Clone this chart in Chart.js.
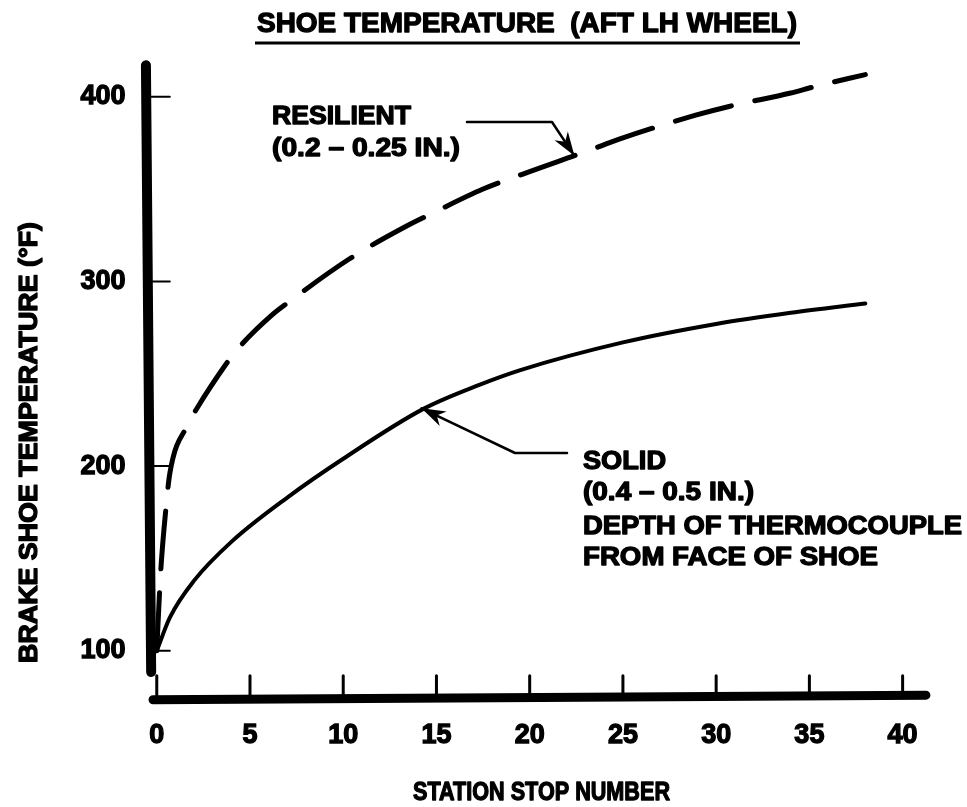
<!DOCTYPE html>
<html>
<head>
<meta charset="utf-8">
<script src="https://cdn.jsdelivr.net/npm/chart.js@4/dist/chart.umd.min.js"></script>
<style>
  html, body { margin: 0; padding: 0; background: #fff; }
  #wrap { width: 967px; height: 807px; }
</style>
</head>
<body>
<div id="wrap"><canvas id="c" width="967" height="807"></canvas></div>
<script>
// Station stop number vs. brake shoe temperature (°F)
const solidStops = [0, 0.7, 2, 4, 7, 10, 14.3, 17.3, 19.5, 25, 30, 34, 38];
const solidTemps = [100, 118, 138, 159, 183, 204, 231, 244, 252, 267, 277, 283, 288];

const resilientStops = [0, 0.2, 0.5, 0.7, 1.7, 2.2, 3.7, 4.3, 6.2, 7.1, 10.3, 13.4, 14.8, 17.5, 19.6, 23.2, 24.8, 28.9, 30.8, 34, 35.1, 38];
const resilientTemps = [100, 141, 178, 196, 223, 232, 255, 263, 282, 289, 312, 330, 337, 350, 358, 371, 377, 390, 395, 402, 405, 412];

const xTickValues = [0, 5, 10, 15, 20, 25, 30, 35, 40];
const yTickValues = [100, 200, 300, 400];

const chartTitle = 'SHOE TEMPERATURE  (AFT LH WHEEL)';
const xTitle = 'STATION STOP NUMBER';
const yTitle = 'BRAKE SHOE TEMPERATURE (°F)';
const resilientNote = ['RESILIENT', '(0.2 \u2013 0.25 IN.)'];
const solidNote = ['SOLID', '(0.4 \u2013 0.5 IN.)', 'DEPTH OF THERMOCOUPLE', 'FROM FACE OF SHOE'];

const FONT = '"Liberation Sans", Arial, Helvetica, sans-serif';

function toPoints(xs, ys) {
  return xs.map((v, i) => ({ x: v, y: ys[i] }));
}

// heavy bold text squeezed/stretched to span [x0, x1]
function fittedText(ctx, text, x0, x1, cy, size) {
  ctx.save();
  ctx.font = 'bold ' + size + 'px ' + FONT;
  ctx.textBaseline = 'middle';
  ctx.textAlign = 'left';
  const w = ctx.measureText(text).width;
  const sx = (x1 - x0) / w;
  ctx.translate(x0, cy);
  ctx.scale(sx, 1);
  ctx.lineWidth = 1.3;
  ctx.lineJoin = 'round';
  ctx.strokeStyle = '#000';
  ctx.fillText(text, 0, 0);
  ctx.strokeText(text, 0, 0);
  ctx.restore();
}

function arrowHead(ctx, tipX, tipY, fromX, fromY, len, half) {
  const a = Math.atan2(tipY - fromY, tipX - fromX);
  ctx.beginPath();
  ctx.moveTo(tipX, tipY);
  ctx.lineTo(tipX - len * Math.cos(a) + half * Math.sin(a), tipY - len * Math.sin(a) - half * Math.cos(a));
  ctx.lineTo(tipX - len * 0.7 * Math.cos(a), tipY - len * 0.7 * Math.sin(a));
  ctx.lineTo(tipX - len * Math.cos(a) - half * Math.sin(a), tipY - len * Math.sin(a) + half * Math.cos(a));
  ctx.closePath();
  ctx.fill();
}

const decor = {
  id: 'decor',
  afterDraw(chart) {
    const { ctx } = chart;
    const xs = chart.scales.x, ys = chart.scales.y;
    const px = v => xs.getPixelForValue(v);
    const py = v => ys.getPixelForValue(v);
    ctx.save();
    ctx.fillStyle = '#000';
    ctx.strokeStyle = '#000';
    ctx.lineCap = 'round';
    ctx.lineJoin = 'round';

    // vertical axis
    ctx.lineWidth = 10;
    ctx.beginPath();
    ctx.moveTo(px(-0.58), py(417));
    ctx.lineTo(px(-0.3), py(88.5));
    ctx.stroke();
    // horizontal axis
    ctx.lineWidth = 9;
    ctx.beginPath();
    ctx.moveTo(px(-0.2), py(73.5));
    ctx.lineTo(px(41.25), py(76));
    ctx.stroke();

    // inward ticks on the temperature axis
    ctx.lineWidth = 2;
    yTickValues.forEach(v => {
      ctx.beginPath();
      ctx.moveTo(px(-0.4), py(v));
      ctx.lineTo(px(0.7), py(v));
      ctx.stroke();
    });
    // upward ticks on the stop-number axis
    ctx.lineWidth = 3;
    xTickValues.forEach(v => {
      ctx.beginPath();
      ctx.moveTo(px(v), py(75));
      ctx.lineTo(px(v), py(86.5));
      ctx.stroke();
    });

    // titles
    fittedText(ctx, chartTitle, 257, 797, 25, 27);
    ctx.lineWidth = 3;
    ctx.lineCap = 'butt';
    ctx.beginPath();
    ctx.moveTo(255, 43);
    ctx.lineTo(800, 43);
    ctx.stroke();
    fittedText(ctx, xTitle, 413, 670, 793, 26);
    ctx.save();
    ctx.translate(30, 0);
    ctx.rotate(-Math.PI / 2);
    fittedText(ctx, yTitle, -663, -222, 0, 25);
    ctx.restore();

    // resilient note and leader
    fittedText(ctx, resilientNote[0], 272, 411, 117, 25);
    fittedText(ctx, resilientNote[1], 272, 460, 149, 25);
    const rTipX = px(22.4), rTipY = py(368);
    ctx.lineWidth = 2.5;
    ctx.lineCap = 'round';
    ctx.beginPath();
    ctx.moveTo(467, 122);
    ctx.lineTo(552, 122);
    ctx.lineTo(rTipX, rTipY);
    ctx.stroke();
    arrowHead(ctx, rTipX, rTipY, 552, 122, 24, 8);

    // solid note and leader
    fittedText(ctx, solidNote[0], 583, 666, 462, 25);
    fittedText(ctx, solidNote[1], 583, 754, 493, 25);
    fittedText(ctx, solidNote[2], 583, 962, 527, 25);
    fittedText(ctx, solidNote[3], 583, 878, 558, 25);
    const sTipX = px(14.2), sTipY = py(231.3);
    ctx.beginPath();
    ctx.moveTo(567, 453);
    ctx.lineTo(515, 453);
    ctx.lineTo(sTipX, sTipY);
    ctx.stroke();
    arrowHead(ctx, sTipX, sTipY, 515, 453, 24, 8);

    ctx.restore();
  }
};

const tickFont = { family: FONT, weight: 'bold', size: 27 };

new Chart(document.getElementById('c'), {
  type: 'scatter',
  data: {
    datasets: [
      {
        label: 'RESILIENT',
        data: toPoints(resilientStops, resilientTemps),
        showLine: true,
        borderColor: '#000',
        borderWidth: 5,
        borderDash: [58, 24],
        borderCapStyle: 'round',
        cubicInterpolationMode: 'monotone',
        pointRadius: 0,
        fill: false
      },
      {
        label: 'SOLID',
        data: toPoints(solidStops, solidTemps),
        showLine: true,
        borderColor: '#000',
        borderWidth: 4,
        borderCapStyle: 'round',
        cubicInterpolationMode: 'monotone',
        pointRadius: 0,
        fill: false
      }
    ]
  },
  options: {
    responsive: false,
    devicePixelRatio: 1,
    animation: false,
    layout: { padding: { top: 64.4, right: 42, bottom: 0, left: 0 } },
    plugins: {
      legend: { display: false },
      title: { display: false },
      tooltip: { enabled: false }
    },
    scales: {
      x: {
        type: 'linear',
        min: -0.55,
        max: 41.2,
        grid: { display: false, drawTicks: false },
        border: { display: false },
        afterBuildTicks: s => { s.ticks = xTickValues.map(v => ({ value: v })); },
        afterFit: s => { s.height = 110; },
        ticks: { font: tickFont, color: '#000', padding: 22, maxRotation: 0, autoSkip: false,
                 textStrokeColor: '#000', textStrokeWidth: 1.3 }
      },
      y: {
        type: 'linear',
        min: 75,
        max: 417.5,
        grid: { display: false, drawTicks: false },
        border: { display: false },
        afterBuildTicks: s => { s.ticks = yTickValues.map(v => ({ value: v })); },
        afterFit: s => { s.width = 146.5; },
        ticks: { font: tickFont, color: '#000', padding: 21, autoSkip: false,
                 textStrokeColor: '#000', textStrokeWidth: 1.3 }
      }
    }
  },
  plugins: [decor]
});
</script>
</body>
</html>
